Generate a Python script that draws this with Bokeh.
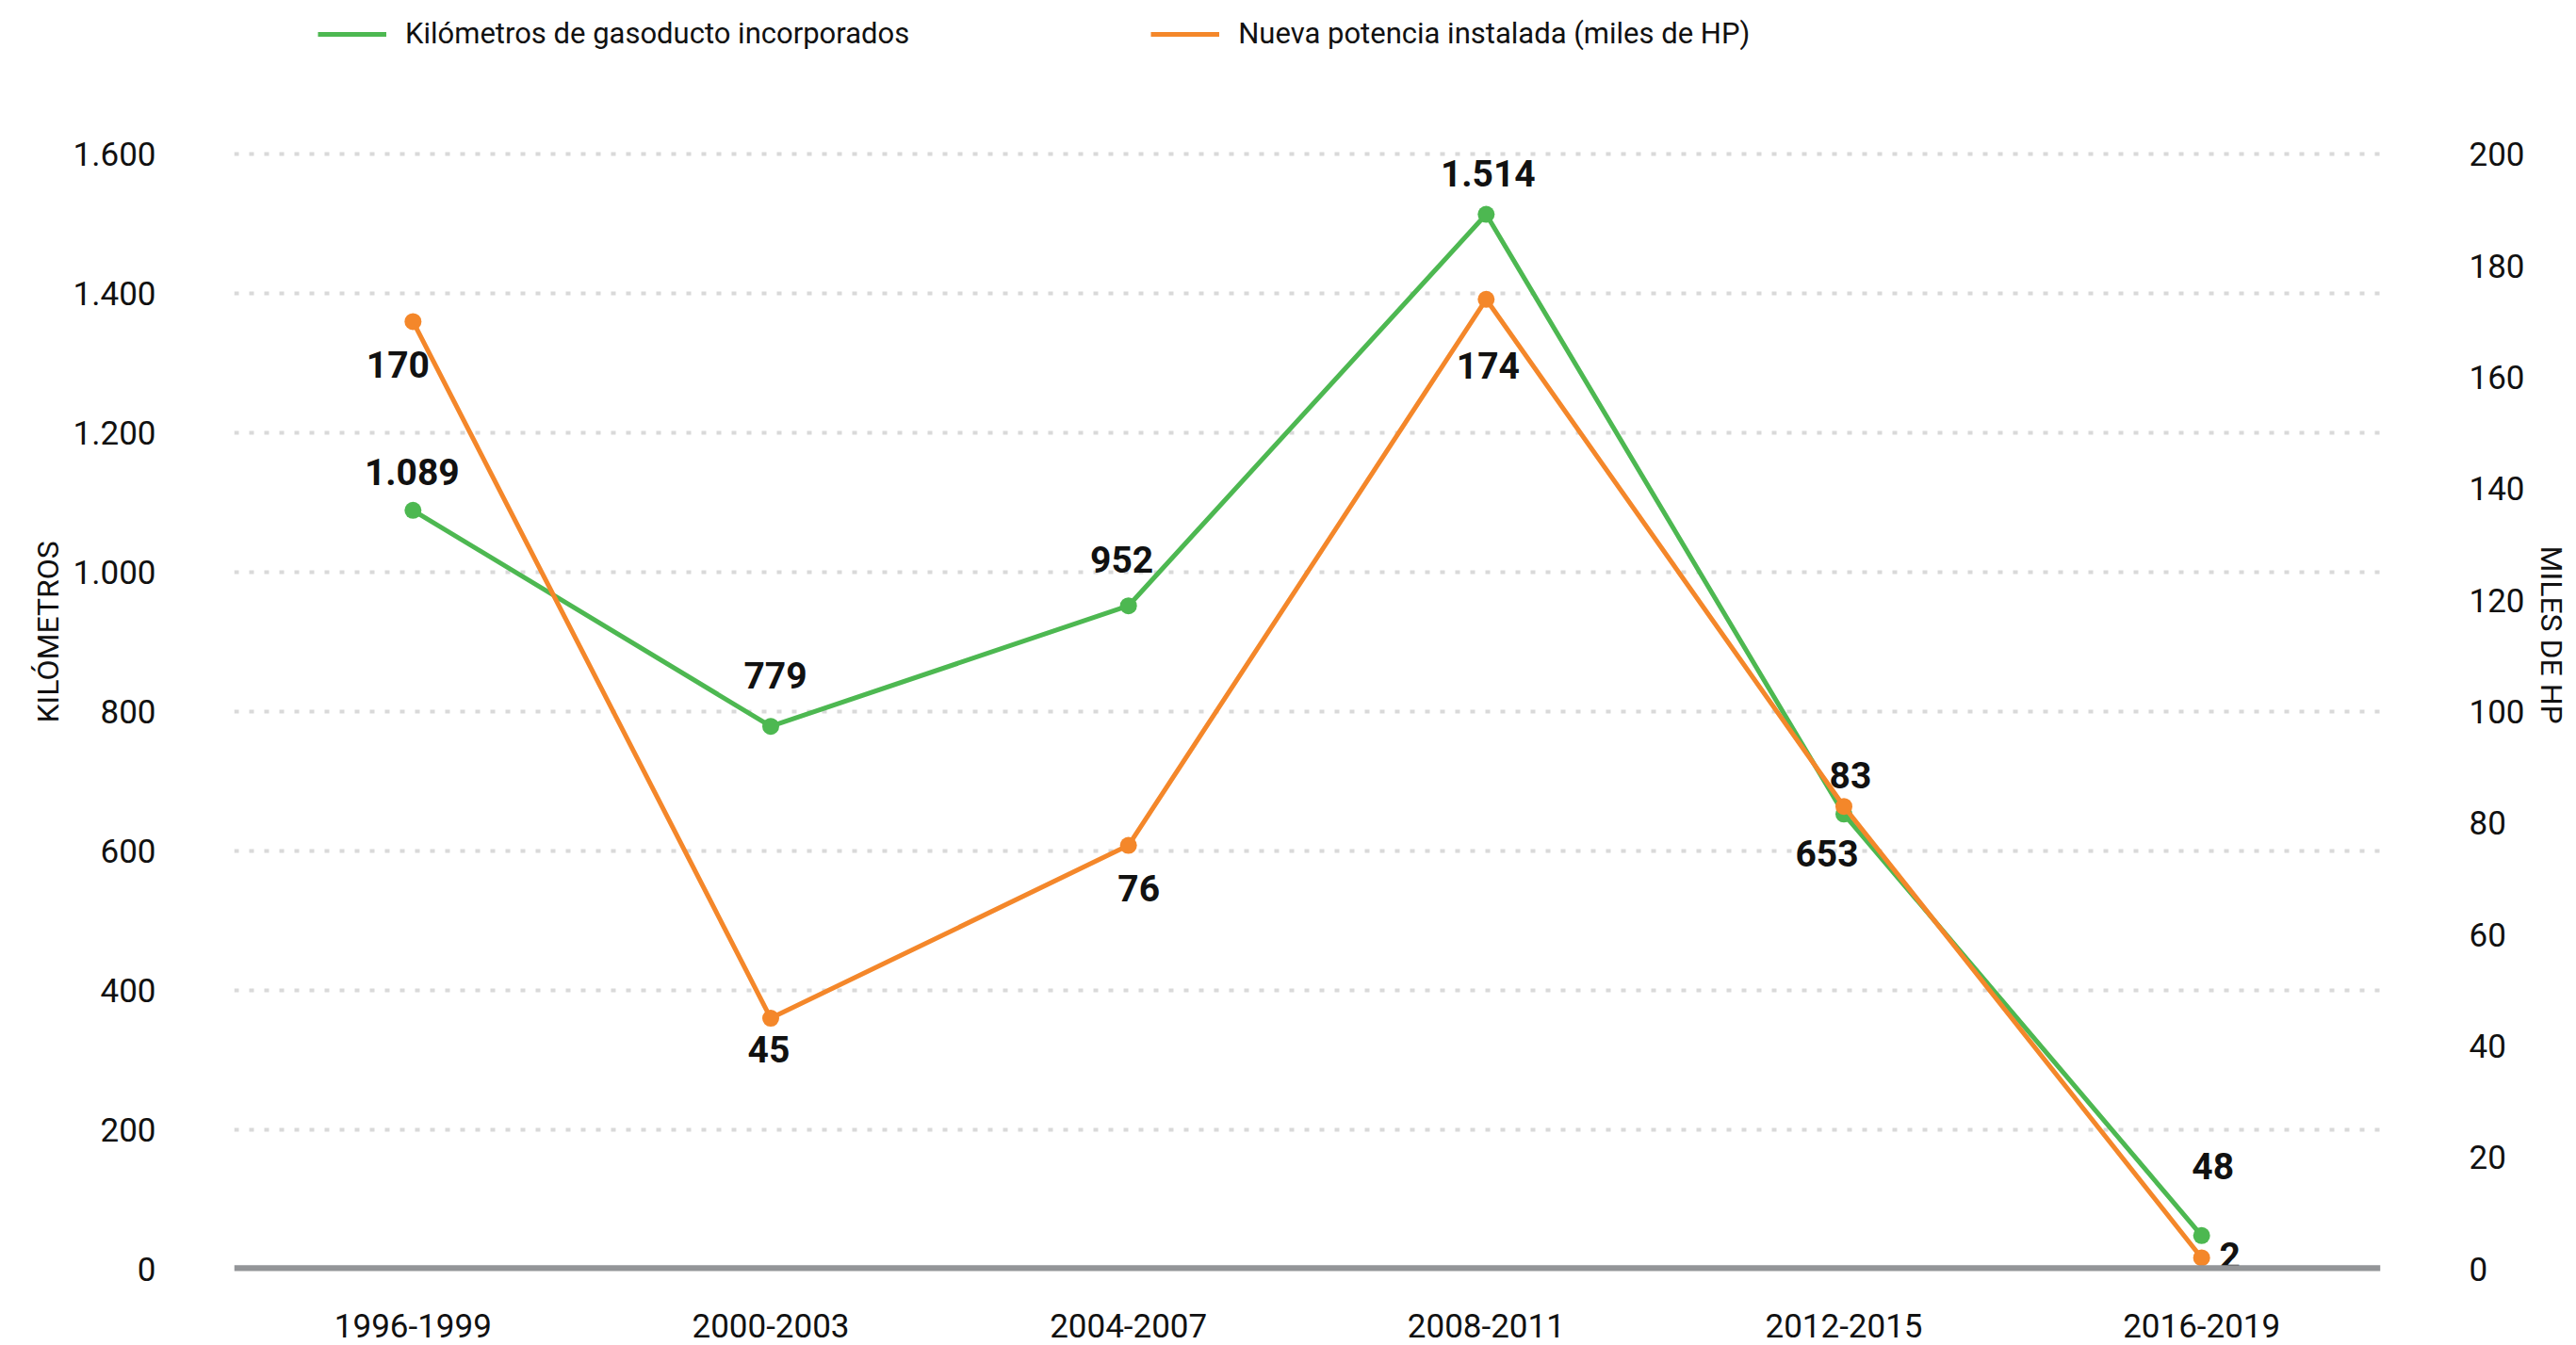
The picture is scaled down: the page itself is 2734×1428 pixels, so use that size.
from bokeh.plotting import figure
from bokeh.layouts import column
from bokeh.models import (FactorRange, Range1d, LinearAxis, FixedTicker, CustomJSTickFormatter,
                          ColumnDataSource, Span, Title, Legend, LegendItem)
from bokeh.core.properties import value
from bokeh.embed import file_html
from bokeh.resources import INLINE

# ---------------- data ----------------
periods = ["1996-1999", "2000-2003", "2004-2007", "2008-2011", "2012-2015", "2016-2019"]
km_values = [1089, 779, 952, 1514, 653, 48]          # Kilómetros de gasoducto incorporados
hp_values = [170, 45, 76, 174, 83, 2]                # Nueva potencia instalada (miles de HP)
km_ticks = [0, 200, 400, 600, 800, 1000, 1200, 1400, 1600]
hp_ticks = [0, 20, 40, 60, 80, 100, 120, 140, 160, 180, 200]
km_name = "Kilómetros de gasoducto incorporados"
hp_name = "Nueva potencia instalada (miles de HP)"
left_title = "KILÓMETROS"
right_title = "MILES DE HP"

# value-label offsets in pixels (x right, y down)
km_dx = [-1, 5, -7, 2, -18, 12]
km_dy = [-41, -54, -49, -44, 42, -74]
hp_dx = [-16, -2, 11, 2, 7, 30]
hp_dy = [46, 33, 45, 70, -33, -2]

# ---------------- style ----------------
FONT = "Roboto"
GREEN = "#4db851"
ORANGE = "#f4872a"
GRID = "#d9d9d9"
BASE = "#939598"
TXT = "#111111"


def fmt(v):
    v = int(round(v))
    return f"{v // 1000}.{v % 1000:03d}" if v >= 1000 else str(v)


W = 2734
LEG_H = 70
H = 1428 - LEG_H

# ---------------- legend strip ----------------
leg = figure(width=W, height=LEG_H, output_backend="svg", toolbar_location=None, title=None,
             x_range=Range1d(0, 1), y_range=Range1d(0, 1),
             x_axis_location=None, y_axis_location=None,
             min_border_left=0, min_border_right=0, min_border_top=0, min_border_bottom=0)
leg.outline_line_color = None
leg.xgrid.visible = False
leg.ygrid.visible = False
# legend-only renderers (no visible marks: NaN placeholders)
placeholder = ColumnDataSource(dict(x=[float("nan")], y=[float("nan")]))
lg_km = leg.line("x", "y", source=placeholder, line_color=GREEN, line_width=5)
lg_hp = leg.line("x", "y", source=placeholder, line_color=ORANGE, line_width=5)
legend = Legend(items=[LegendItem(label=km_name, renderers=[lg_km]),
                       LegendItem(label=hp_name, renderers=[lg_hp])],
                location=(89, 16), orientation="horizontal", padding=0, margin=0,
                spacing=256, border_line_color=None, background_fill_alpha=0,
                glyph_width=73, glyph_height=20, label_standoff=20,
                label_text_font=FONT, label_text_font_size="31px",
                label_text_color=TXT, label_text_baseline="middle")
leg.add_layout(legend, "center")

# ---------------- main chart ----------------
p = figure(x_range=FactorRange(factors=periods), y_range=Range1d(-3, 1606),
           width=W, height=H, output_backend="svg", toolbar_location=None, title=None,
           min_border_left=248, min_border_right=207, min_border_top=159 - LEG_H,
           min_border_bottom=79)
p.extra_y_ranges = {"hp": Range1d(-0.375, 200.75)}
p.outline_line_color = None
p.background_fill_color = "white"
p.border_fill_color = "white"

formatter = CustomJSTickFormatter(code="""
const t = Math.round(tick);
if (t >= 1000) { return Math.floor(t/1000) + '.' + String(t % 1000).padStart(3, '0'); }
return String(t);
""")


def style_axis(ax, standoff):
    ax.axis_line_color = None
    ax.major_tick_line_color = None
    ax.minor_tick_line_color = None
    ax.major_label_standoff = standoff
    ax.major_label_text_font = FONT
    ax.major_label_text_font_size = "35px"
    ax.major_label_text_color = TXT


ya = p.yaxis[0]
ya.ticker = FixedTicker(ticks=km_ticks)
ya.formatter = formatter
style_axis(ya, 77)

ra = LinearAxis(y_range_name="hp", ticker=FixedTicker(ticks=hp_ticks))
style_axis(ra, 88)
p.add_layout(ra, "right")

style_axis(p.xaxis[0], 39)

# grid
p.xgrid.grid_line_color = None
p.ygrid.ticker = FixedTicker(ticks=km_ticks[1:])
p.ygrid.grid_line_color = GRID
p.ygrid.grid_line_width = 4
p.ygrid.grid_line_dash = "5 11"

p.add_layout(Span(location=0, dimension="width", line_color=BASE, line_width=8))

src = ColumnDataSource(dict(
    x=periods, km=km_values, hp=hp_values,
    km_lab=[fmt(v) for v in km_values], hp_lab=[fmt(v) for v in hp_values],
    km_dx=km_dx, km_dy=km_dy, hp_dx=hp_dx, hp_dy=hp_dy,
))

p.line("x", "km", source=src, line_color=GREEN, line_width=5)
p.scatter("x", "km", source=src, size=18, fill_color=GREEN, line_color=None)
p.line("x", "hp", source=src, line_color=ORANGE, line_width=5, y_range_name="hp")
p.scatter("x", "hp", source=src, size=18, fill_color=ORANGE, line_color=None, y_range_name="hp")

lab_style = dict(text_font=value(FONT), text_font_style="bold", text_font_size="39px",
                 text_align="center", text_baseline="middle", text_color=TXT)
p.text("x", "km", text="km_lab", source=src, x_offset="km_dx", y_offset="km_dy", **lab_style)
p.text("x", "hp", text="hp_lab", source=src, x_offset="hp_dx", y_offset="hp_dy",
       y_range_name="hp", **lab_style)

# axis titles
p.add_layout(Title(text=left_title, align="left", offset=582, standoff=10,
                   text_font=FONT, text_font_size="32px", text_font_style="normal",
                   text_color=TXT), "left")
p.add_layout(Title(text=right_title, align="left", offset=420, standoff=12,
                   text_font=FONT, text_font_size="32px", text_font_style="normal",
                   text_color=TXT), "right")

open("out.html", "w").write(file_html(column(leg, p, spacing=0), INLINE))
